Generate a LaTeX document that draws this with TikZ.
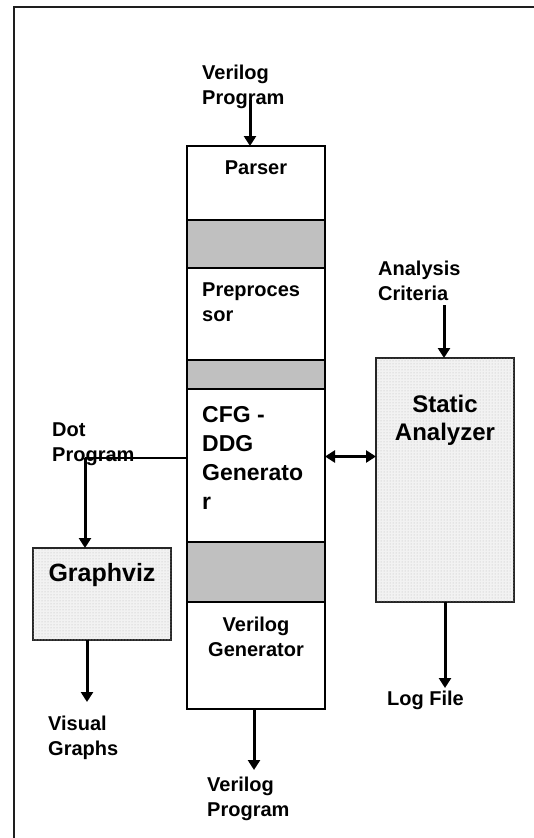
\documentclass[tikz,border=0pt]{standalone}
\usepackage{fontspec}
\setmainfont{Liberation Sans}
\usepackage{tikz}
\usetikzlibrary{
  arrows.meta,
  positioning,
  patterns
}
\definecolor{bandgray}{RGB}{192, 192, 192}
\definecolor{framegray}{RGB}{30, 30, 30}
\tikzset{
  colbox/.style = {
    rectangle, draw=black, line width=1.5pt,
    fill=white, minimum width=138pt, minimum height=#1,
    inner sep=0pt, outer sep=0pt
  },
  colbox/.default = 74pt,
  band/.style = {colbox=#1, fill=bandgray},
  dotbox/.style = {
    rectangle, draw=black!85, line width=1.3pt,
    fill=gray!10, postaction={pattern=dots, pattern color=gray!55},
    minimum width=138pt, minimum height=#1,
    inner sep=0pt, outer sep=0pt
  },
  txt/.style    = {font=\bfseries\fontsize{20}{25}\selectfont, inner sep=0pt, align=left},
  bigtxt/.style = {font=\bfseries\fontsize{24}{28}\selectfont, inner sep=0pt, align=center},
  arr/.style  = {-{Triangle[width=12pt,length=10pt]}, line width=3pt},
  darr/.style = {{Triangle[width=12pt,length=10pt]}-{Triangle[width=12pt,length=10pt]}, line width=3pt},
}

\begin{document}
\begin{tikzpicture}[x=1pt, y=-1pt]
  \useasboundingbox (0,0) rectangle (534,838);
  \draw[line width=2pt, framegray] (14,838) -- (14,7) -- (534,7);

  %% main column
  \node[colbox=74pt, anchor=north] (parser) at (256,146) {};
  \node[band=48pt,    below=0pt of parser] (gap1) {};
  \node[colbox=92pt,  below=0pt of gap1]   (prep) {};
  \node[band=29pt,    below=0pt of prep]   (gap2) {};
  \node[colbox=153pt, below=0pt of gap2]   (cfg)  {};
  \node[band=60pt,    below=0pt of cfg]    (gap3) {};
  \node[colbox=107pt, below=0pt of gap3]   (vgen) {};

  \node[txt, below=15pt of parser.north] (parsertxt) {Parser};
  \node[txt, below right=15pt and 15pt of prep.north west] (preptxt) {Preproces\\sor};
  \node[txt, below right=17pt and 15pt of cfg.north west,
        font=\bfseries\fontsize{23}{29}\selectfont] (cfgtxt) {CFG -\\DDG\\Generato\\r};
  \node[txt, align=center, below=15pt of vgen.north] (vgentxt) {Verilog\\Generator};

  %% side boxes
  \node[dotbox=244pt, anchor=north west] (sa) at (376,358) {};
  \node[bigtxt, below=37pt of sa.north] (satxt) {Static\\Analyzer};
  \node[dotbox=92pt, anchor=north west] (gv) at (33,548) {};
  \node[bigtxt, font=\bfseries\fontsize{25}{28}\selectfont,
        below=15pt of gv.north] (gvtxt) {Graphviz};

  %% outer labels
  \node[txt, anchor=north west] (vin)  at (202,65)  {Verilog\\Program};
  \node[txt, anchor=north west] (crit) at (378,261) {Analysis\\Criteria};
  \node[txt, anchor=north west] (dot)  at (52,423)  {Dot\\Program};
  \node[txt, anchor=north west] (vis)  at (48,716)  {Visual\\Graphs};
  \node[txt, anchor=north west] (log)  at (387,691) {Log File};
  \node[txt, anchor=north west] (vout) at (207,777) {Verilog\\Program};

  %% arrows
  \coordinate (vtop) at (250,100);
  \draw[arr] (vtop) -- (vtop |- parser.north);
  \coordinate (crittail) at (444,305);
  \draw[arr] (crittail) -- (crittail |- sa.north);
  \draw[darr] ([yshift=9pt]cfg.east) -- ([yshift=9pt]cfg.east -| sa.west);
  \coordinate (dotturn) at (85,458);
  \draw[line width=1.5pt] (dotturn -| cfg.west) -- (dotturn);
  \draw[arr] (dotturn) -- (dotturn |- gv.north);
  \coordinate (visend) at (87,702);
  \draw[arr] (visend |- gv.south) -- (visend);
  \coordinate (logend) at (445,688);
  \draw[arr] (logend |- sa.south) -- (logend);
  \coordinate (vend) at (254,770);
  \draw[arr] (vend |- vgen.south) -- (vend);
\end{tikzpicture}
\end{document}
